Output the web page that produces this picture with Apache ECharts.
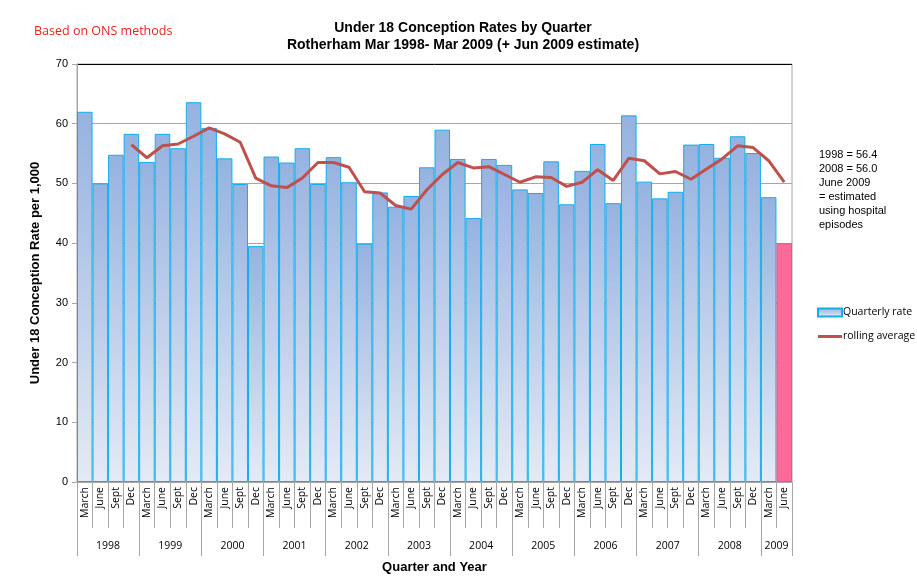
<!DOCTYPE html>
<html>
<head>
<meta charset="utf-8">
<script src="https://cdn.jsdelivr.net/npm/echarts@6/dist/echarts.min.js"></script>
<style>
  html, body { margin: 0; padding: 0; background: #fff; }
  #chart { width: 917px; height: 581px; }
</style>
</head>
<body>
<div id="chart"></div>
<script>
// years and quarter names for the two-level category axis
const years = ["1998", "1999", "2000", "2001", "2002", "2003", "2004", "2005", "2006", "2007", "2008", "2009"];
const quarterNames = ["March", "June", "Sept", "Dec"];

// quarterly rate per 1,000 (Mar 1998 .. Jun 2009, last one is the estimate)
const quarterlyRate = [
  62.0, 50.0, 54.8, 58.3,
  53.6, 58.3, 55.9, 63.6,
  59.3, 54.2, 49.9, 39.5,
  54.5, 53.5, 55.9, 49.9,
  54.4, 50.2, 39.9, 48.5,
  46.1, 47.9, 52.7, 59.0,
  54.1, 44.2, 54.1, 53.1,
  49.0, 48.4, 53.7, 46.5,
  52.1, 56.6, 46.7, 61.4,
  50.3, 47.5, 48.6, 56.5,
  56.6, 54.3, 57.9, 55.1,
  47.7, 40.0
];

// rolling average (starts at Dec 1998)
const rollingAverage = [
  null, null, null, 56.5,
  54.3, 56.3, 56.6, 57.9,
  59.3, 58.3, 56.9, 50.9,
  49.6, 49.3, 50.9, 53.5,
  53.5, 52.7, 48.6, 48.4,
  46.3, 45.7, 48.9, 51.5,
  53.5, 52.6, 52.8, 51.5,
  50.2, 51.1, 51.0, 49.5,
  50.2, 52.3, 50.5, 54.2,
  53.8, 51.6, 52.0, 50.7,
  52.4, 54.1, 56.3, 56.0,
  53.8, 50.2
];

const yTicks = [0, 10, 20, 30, 40, 50, 60, 70];
const noteLines = ["1998 = 56.4", "2008 = 56.0", "June 2009", "= estimated", "using hospital", "episodes"];

// build categories
const quarterCats = quarterlyRate.map((v, i) => quarterNames[i % 4]);
const n = quarterlyRate.length;
// year axis: n+1 boundary points, label at middle of each year's span
const yearCats = new Array(n + 1).fill("");
const yearBounds = {};
years.forEach((y, k) => {
  const start = k * 4;
  const end = Math.min(start + 4, n);
  yearBounds[start] = true;
  yearBounds[end] = true;
  yearCats[(start + end) / 2] = y;
});
const estimateIndex = n - 1;

const barData = quarterlyRate.map((v, i) => {
  if (i === estimateIndex) {
    return { value: v, itemStyle: { color: "#FF6A9B", borderColor: "#E8568A" } };
  }
  return v;
});
const lineData = rollingAverage.map(v => (v === null ? "-" : v));

const chart = echarts.init(document.getElementById("chart"));

const gridColors = yTicks.map((t, i) => (i === yTicks.length - 1 ? "#000000" : "#A6A6A6"));

chart.setOption({
  backgroundColor: "#fff",
  animation: false,
  title: {
    text: "Under 18 Conception Rates by Quarter\nRotherham Mar 1998- Mar 2009 (+ Jun 2009 estimate)",
    left: 458,
    textAlign: "center",
    top: 15,
    textStyle: {
      fontFamily: "Liberation Sans",
      fontSize: 14,
      fontWeight: "bold",
      color: "#000",
      lineHeight: 17
    }
  },
  graphic: [
    {
      type: "text",
      left: 34,
      top: 25,
      style: {
        text: "Based on ONS methods",
        fill: "#E8231F",
        font: "12.5px 'Open Sans', sans-serif"
      }
    },
    {
      type: "text",
      left: 819,
      top: 148,
      style: {
        text: noteLines.join("\n"),
        fill: "#000",
        font: "11px 'Liberation Sans', sans-serif",
        lineHeight: 14
      }
    }
  ],
  legend: {
    orient: "vertical",
    left: 812,
    top: 302,
    itemGap: 13,
    itemWidth: 24,
    itemHeight: 8,
    textStyle: { fontFamily: "Open Sans", fontSize: 10.5, color: "#000", padding: [0, 0, 0, -4] },
    data: [
      { name: "Quarterly rate", icon: "rect" },
      { name: "rolling average", icon: "path://M0,0 H24 V3 H0 Z" }
    ]
  },
  grid: {
    left: 77,
    right: 125,
    top: 64,
    bottom: 99,
    show: true,
    borderColor: "#A6A6A6",
    borderWidth: 1
  },
  xAxis: [
    {
      type: "category",
      data: quarterCats,
      boundaryGap: true,
      name: "Quarter and Year",
      nameLocation: "middle",
      nameGap: 79,
      nameTextStyle: { fontFamily: "Liberation Sans", fontSize: 13, fontWeight: "bold", color: "#000" },
      axisLine: { show: true, lineStyle: { color: "#A6A6A6", width: 1 } },
      axisTick: { show: true, interval: 0, length: 46, lineStyle: { color: "#A6A6A6" } },
      axisLabel: {
        interval: 0,
        rotate: 90,
        margin: 5,
        fontFamily: "Open Sans",
        fontSize: 10.5,
        color: "#000"
      },
      splitLine: { show: false }
    },
    {
      type: "category",
      data: yearCats,
      position: "bottom",
      boundaryGap: false,
      axisLine: { show: false },
      axisTick: {
        show: true,
        interval: (idx) => !!yearBounds[idx],
        length: 74,
        lineStyle: { color: "#A6A6A6" }
      },
      axisLabel: {
        interval: (idx, val) => val !== "",
        margin: 59,
        fontFamily: "Open Sans",
        fontSize: 10.5,
        color: "#000"
      },
      splitLine: { show: false }
    }
  ],
  yAxis: {
    type: "value",
    min: 0,
    max: 70,
    interval: 10,
    name: "Under 18 Conception Rate per 1,000",
    nameLocation: "middle",
    nameRotate: 90,
    nameGap: 35,
    nameTextStyle: { fontFamily: "Liberation Sans", fontSize: 13, fontWeight: "bold", color: "#000" },
    axisLine: { show: true, lineStyle: { color: "#A6A6A6" } },
    axisTick: { show: true, length: 5, lineStyle: { color: "#A6A6A6" } },
    axisLabel: { margin: 9, fontFamily: "Liberation Sans", fontSize: 11, color: "#000" },
    splitLine: { show: true, lineStyle: { color: gridColors, width: 1 } }
  },
  series: [
    {
      name: "Quarterly rate",
      type: "bar",
      xAxisIndex: 0,
      data: barData,
      barCategoryGap: 0,
      itemStyle: {
        color: new echarts.graphic.LinearGradient(0, 0, 0, 1, [
          { offset: 0, color: "#95B2E0" },
          { offset: 1, color: "#E4EAF5" }
        ]),
        borderColor: "#12AEEA",
        borderWidth: 1
      },
      z: 2
    },
    {
      name: "rolling average",
      type: "line",
      xAxisIndex: 0,
      data: lineData,
      symbol: "none",
      lineStyle: { color: "#C0504D", width: 3 },
      itemStyle: { color: "#C0504D" },
      z: 3
    }
  ]
});
</script>
</body>
</html>
